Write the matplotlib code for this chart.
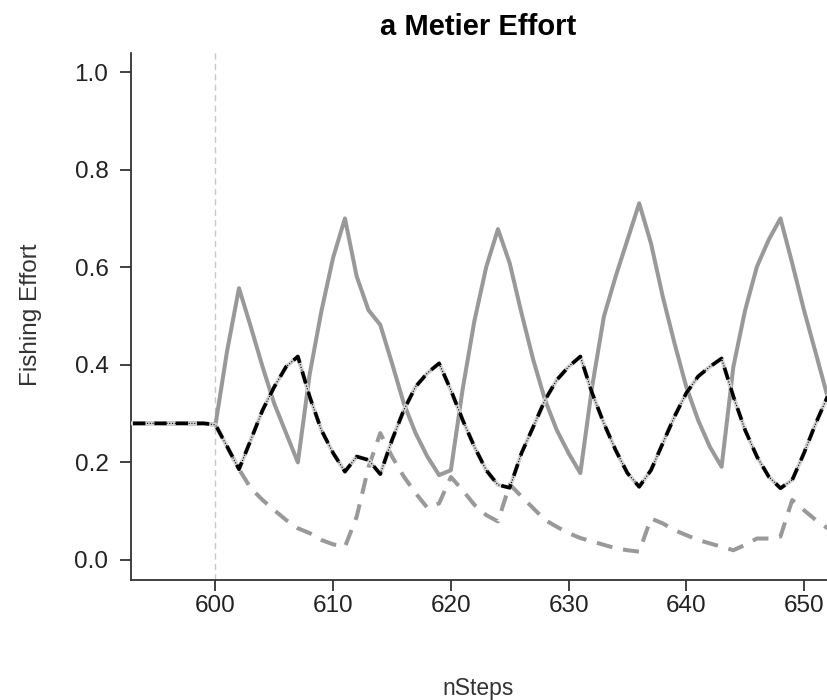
import matplotlib
matplotlib.use("Agg")
import matplotlib.pyplot as plt
import numpy as np

plt.rcParams['font.family'] = ['Liberation Sans', 'DejaVu Sans']

steps = list(range(593, 653))

black_vals = [0.28, 0.28, 0.28, 0.28, 0.28, 0.28, 0.28,
              0.277, 0.232, 0.186, 0.246, 0.307, 0.355, 0.396, 0.417,
              0.335, 0.266, 0.219, 0.181, 0.212, 0.205, 0.176, 0.246,
              0.307, 0.355, 0.383, 0.403, 0.348, 0.287, 0.232, 0.184,
              0.154, 0.148, 0.219, 0.273, 0.328, 0.369, 0.396, 0.417,
              0.342, 0.280, 0.225, 0.178, 0.150, 0.184, 0.239, 0.294,
              0.342, 0.376, 0.396, 0.413, 0.335, 0.266, 0.212, 0.171,
              0.147, 0.164, 0.219, 0.280, 0.335]

gray_solid = [0.28, 0.28, 0.28, 0.28, 0.28, 0.28, 0.28,
              0.277, 0.43, 0.557, 0.478, 0.396, 0.32, 0.26, 0.200,
              0.38, 0.51, 0.62, 0.700, 0.581, 0.512, 0.482, 0.403,
              0.321, 0.26, 0.212, 0.174, 0.184, 0.35, 0.49, 0.60,
              0.678, 0.608, 0.506, 0.41, 0.328, 0.266, 0.219, 0.178,
              0.355, 0.499, 0.581, 0.656, 0.731, 0.649, 0.54, 0.444,
              0.355, 0.287, 0.232, 0.191, 0.396, 0.512, 0.601, 0.656,
              0.70, 0.608, 0.512, 0.424, 0.335]

gray_dashed = [0.28, 0.28, 0.28, 0.28, 0.28, 0.28, 0.28,
               0.277, 0.232, 0.186, 0.147, 0.123, 0.102, 0.082, 0.065,
               0.055, 0.041, 0.032, 0.027, 0.089, 0.19, 0.26, 0.212,
               0.171, 0.137, 0.107, 0.116, 0.17, 0.143, 0.113, 0.092,
               0.079, 0.155, 0.13, 0.106, 0.082, 0.068, 0.055, 0.045,
               0.038, 0.031, 0.024, 0.020, 0.017, 0.085, 0.075, 0.061,
               0.051, 0.041, 0.034, 0.027, 0.020, 0.031, 0.044, 0.044,
               0.048, 0.123, 0.102, 0.082, 0.065]

light_vals = black_vals

x_ticks = [600, 610, 620, 630, 640, 650]
y_ticks = [0.0, 0.2, 0.4, 0.6, 0.8, 1.0]
y_tick_labels = ["0.0", "0.2", "0.4", "0.6", "0.8", "1.0"]
start_step = 600

fig = plt.figure(figsize=(8.28, 7.0), dpi=100)
ax = fig.add_axes([130.6 / 828, 1 - 579.5 / 700, 1 - 130.6 / 828, (579.5 - 52.5) / 700])

ax.axvline(start_step, color="#c8c8c8", lw=1.0, dashes=(4.5, 3), zorder=1)

ax.plot(steps, gray_solid, color="#999999", lw=2.9, solid_joinstyle="round", zorder=2)
ax.plot(steps, gray_dashed, color="#999999", lw=2.9, dashes=(4.0, 2.7), zorder=2)
ax.plot(steps, light_vals, color="#d3d3d3", lw=3.0, solid_joinstyle="round", zorder=3)
ax.plot(steps, black_vals, color="black", lw=0.8, dashes=(1, 1.5), zorder=4)
ax.plot(steps, black_vals, color="black", lw=2.6, dashes=(3.4, 2.5), zorder=5)

ax.set_xlim(592.79, 652.04)
ax.set_ylim(-0.04, 1.04)
ax.set_xticks(x_ticks)
ax.set_yticks(y_ticks)
ax.set_yticklabels(y_tick_labels)
for s in ["top", "right"]:
    ax.spines[s].set_visible(False)
for s in ["left", "bottom"]:
    ax.spines[s].set_color("#333333")
    ax.spines[s].set_linewidth(1.3)
ax.tick_params(axis="both", direction="out", length=8, width=1.3, color="#333333",
               labelsize=17.5, labelcolor="#222222")
ax.tick_params(axis="y", pad=8)
ax.tick_params(axis="x", pad=3)

fig.text(478 / 828, 1 - 27 / 700, "a Metier Effort", ha="center", va="center",
         fontsize=21, fontweight="bold", color="black")
fig.text(478 / 828, 1 - 688 / 700, "nSteps", ha="center", va="center",
         fontsize=16.5, color="#333333")
fig.text(31 / 828, 1 - 315 / 700, "Fishing Effort", ha="center", va="center",
         rotation=90, fontsize=17.5, color="#333333")

fig.savefig("out.png", dpi=100)
